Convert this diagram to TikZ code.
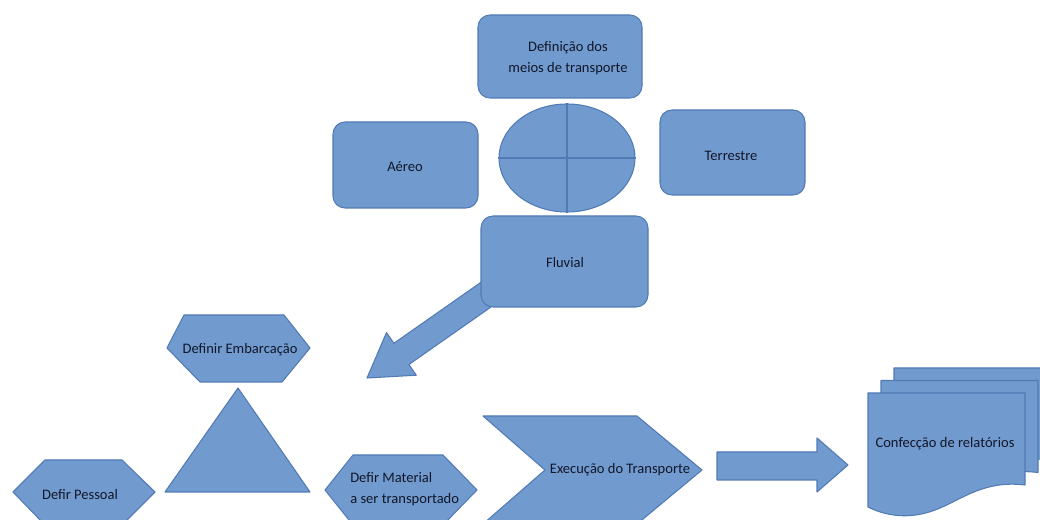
\documentclass[tikz,border=0pt]{standalone}
\usepackage{fontspec}
\setmainfont{Carlito}
\usetikzlibrary{shapes.geometric,fit}
\definecolor{bfill}{RGB}{113,155,207}
\definecolor{bline}{RGB}{82,122,180}
\definecolor{btext}{RGB}{18,22,40}
\begin{document}
\begin{tikzpicture}[x=0.75pt,y=-0.75pt,
  shp/.style={fill=bfill,draw=bline,line width=0.8pt,line join=round},
  rbox/.style={shp,rounded corners=9pt,inner sep=0pt},
  lbl/.style={text=btext,font=\fontsize{10.9}{16}\selectfont,align=center,inner sep=0pt}]
\useasboundingbox (0,0) rectangle (1040,520);

% big diagonal arrow (behind Fluvial)
\coordinate (diagtip) at (367,378);
\path[shp] (500.4,268.7) -- (393.9,343.3) -- (386.5,332.6) -- (diagtip)
  -- (416.3,375.2) -- (408.9,364.5) -- (515.4,289.9) -- cycle;

% top boxes
\node[rbox, fit={(478,15)(642,98)}] (defin) {};
\node[lbl] (defin-t) at (568,58) {Definição dos\\meios de transporte};
\node[rbox, fit={(333,122)(478,208)}] (aereo) {};
\node[lbl] (aereo-t) at (405,167) {Aéreo};
\node[rbox, fit={(660,110)(805,195)}] (terr) {};
\node[lbl] (terr-t) at (731,156) {Terrestre};
\node[rbox, fit={(481,216)(648,307)}] (fluv) {};
\node[lbl] (fluv-t) at (565,263) {Fluvial};

% ellipse with cross
\node[shp, ellipse, minimum width=102pt, minimum height=81pt, inner sep=0pt] (ell) at (567,158) {};
\draw[bline, line width=0.8pt] (ell.north) -- (ell.south) (ell.west) -- (ell.east);

% hexagon: Definir Embarcacao
\path[shp] (167,348) -- (184,315) -- (284,315) -- (310,348) -- (282,382) -- (200,382) -- cycle;
\node[lbl] (embarc) at (240,350) {Definir Embarcação};

% triangle
\coordinate (triA) at (238,388);
\path[shp] (triA) -- (310,492) -- (165,492) -- cycle;

% hexagon: Defir Pessoal
\path[shp] (13,492) -- (45,460) -- (122,460) -- (155,492) -- (122,525) -- (45,525) -- cycle;
\node[lbl] (pessoal) at (80,495) {Defir Pessoal};

% hexagon: Defir Material
\path[shp] (325,490) -- (353,455) -- (443,455) -- (477,490) -- (443,525) -- (353,525) -- cycle;
\node[lbl, align=left, anchor=west] (material) at (350,489) {Defir Material\\a ser transportado};

% chevron
\path[shp] (483,416) -- (637,416) -- (702,470) -- (637,524) -- (483,524) -- (545,470) -- cycle;
\node[lbl] (exec) at (620,470) {Execução do Transporte};

% right block arrow
\coordinate (rarrtip) at (848,465);
\path[shp] (717,452) -- (817,452) -- (817,438) -- (rarrtip) -- (817,492) -- (817,480) -- (717,480) -- cycle;

% document stack
\foreach \dx/\dy in {26/-25,13/-12.5,0/0}{
  \path[shp, shift={(\dx,\dy)}] (868,393) -- (1025,393) -- (1025,485)
    .. controls (985,480) and (962,499) .. (940,508)
    .. controls (915,519) and (890,518) .. (868,507) -- cycle;
}
\node[lbl] (relat) at (945,444) {Confecção de relatórios};
\end{tikzpicture}
\end{document}
